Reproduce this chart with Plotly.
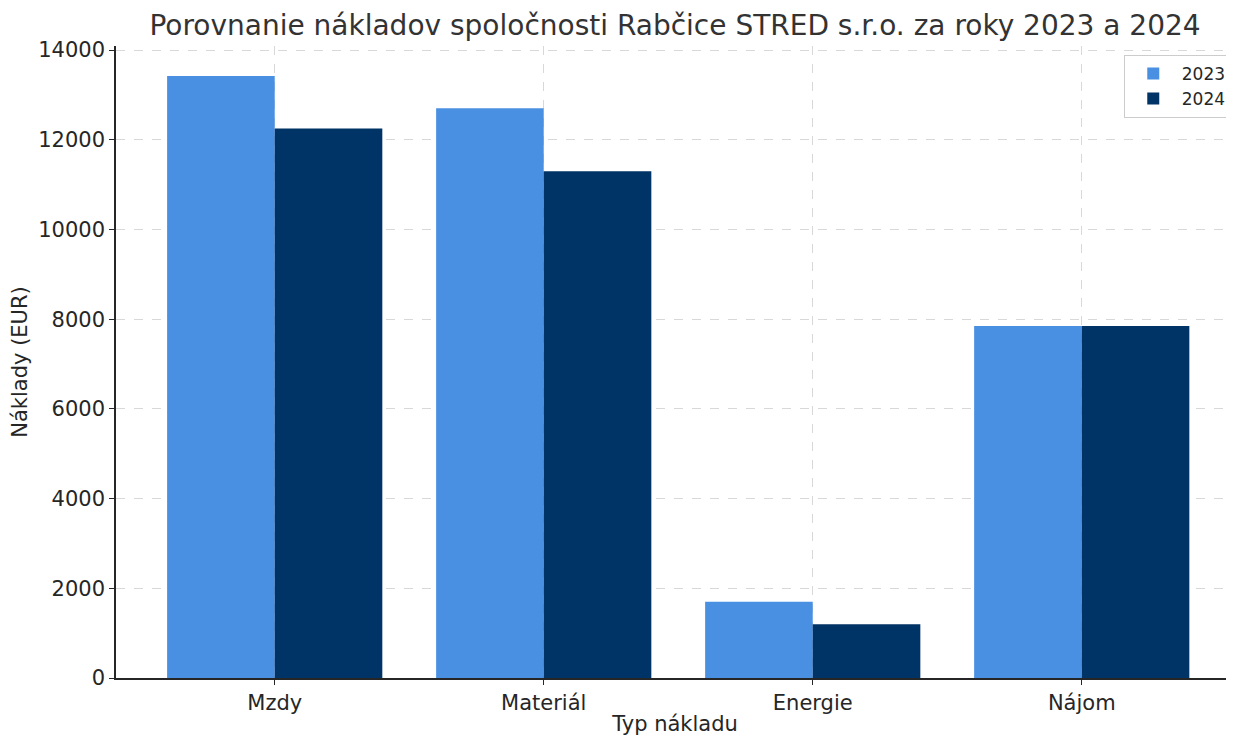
import plotly.graph_objects as go

categories = ["Mzdy", "Materiál", "Energie", "Nájom"]
values_2023 = [13420, 12700, 1700, 7850]
values_2024 = [12250, 11300, 1200, 7850]
series_names = ["2023", "2024"]
y_ticks = [0, 2000, 4000, 6000, 8000, 10000, 12000, 14000]

FONT = "DejaVu Sans"
TXT = "#262626"

fig = go.Figure()
fig.add_trace(go.Bar(x=categories, y=values_2023, name=series_names[0],
                     marker=dict(color="#4A90E2", line=dict(width=0))))
fig.add_trace(go.Bar(x=categories, y=values_2024, name=series_names[1],
                     marker=dict(color="#003366", line=dict(width=0))))

# page body has an ~8px default margin; figure is sized to fit the 1234x736 window
fig.update_layout(
    width=1226, height=728,
    margin=dict(l=108, r=0, t=38, b=58, pad=0),
    paper_bgcolor="white", plot_bgcolor="white",
    barmode="group", bargap=0.2, bargroupgap=0,
    font=dict(family=FONT, color=TXT, size=21),
    title=dict(text="Porovnanie nákladov spoločnosti Rabčice STRED s.r.o. za roky 2023 a 2024",
               x=0.5, xref="paper", xanchor="center", y=0.977, yref="container", yanchor="middle",
               font=dict(family=FONT, size=28, color="#333333")),
    legend=dict(x=0.998, y=0.986, xanchor="right", yanchor="top",
                bgcolor="white", bordercolor="#cccccc", borderwidth=1,
                itemwidth=47,
                font=dict(family=FONT, size=17, color=TXT)),
    showlegend=True,
)
fig.update_xaxes(
    range=[-0.59, 3.566],
    title=dict(text="Typ nákladu", font=dict(family=FONT, size=21, color=TXT), standoff=7),
    showline=True, linecolor="#262626", linewidth=1.5, mirror=False,
    ticks="outside", ticklen=5, tickcolor="#262626",
    tickfont=dict(family=FONT, size=21, color=TXT),
    showgrid=True, gridcolor="rgba(190,190,190,0.6)", griddash="dash", gridwidth=1,
    layer="above traces",
)
fig.update_yaxes(
    range=[0, 14090],
    tickvals=y_ticks, ticktext=[str(v) for v in y_ticks],
    title=dict(text="Náklady (EUR)", font=dict(family=FONT, size=21, color=TXT), standoff=10),
    showline=True, linecolor="#262626", linewidth=1.5,
    ticks="outside", ticklen=5, tickcolor="#262626",
    tickfont=dict(family=FONT, size=21, color=TXT),
    showgrid=True, gridcolor="rgba(190,190,190,0.6)", griddash="dash", gridwidth=1,
    zeroline=False,
    layer="above traces",
)

fig.write_html("out.html")
